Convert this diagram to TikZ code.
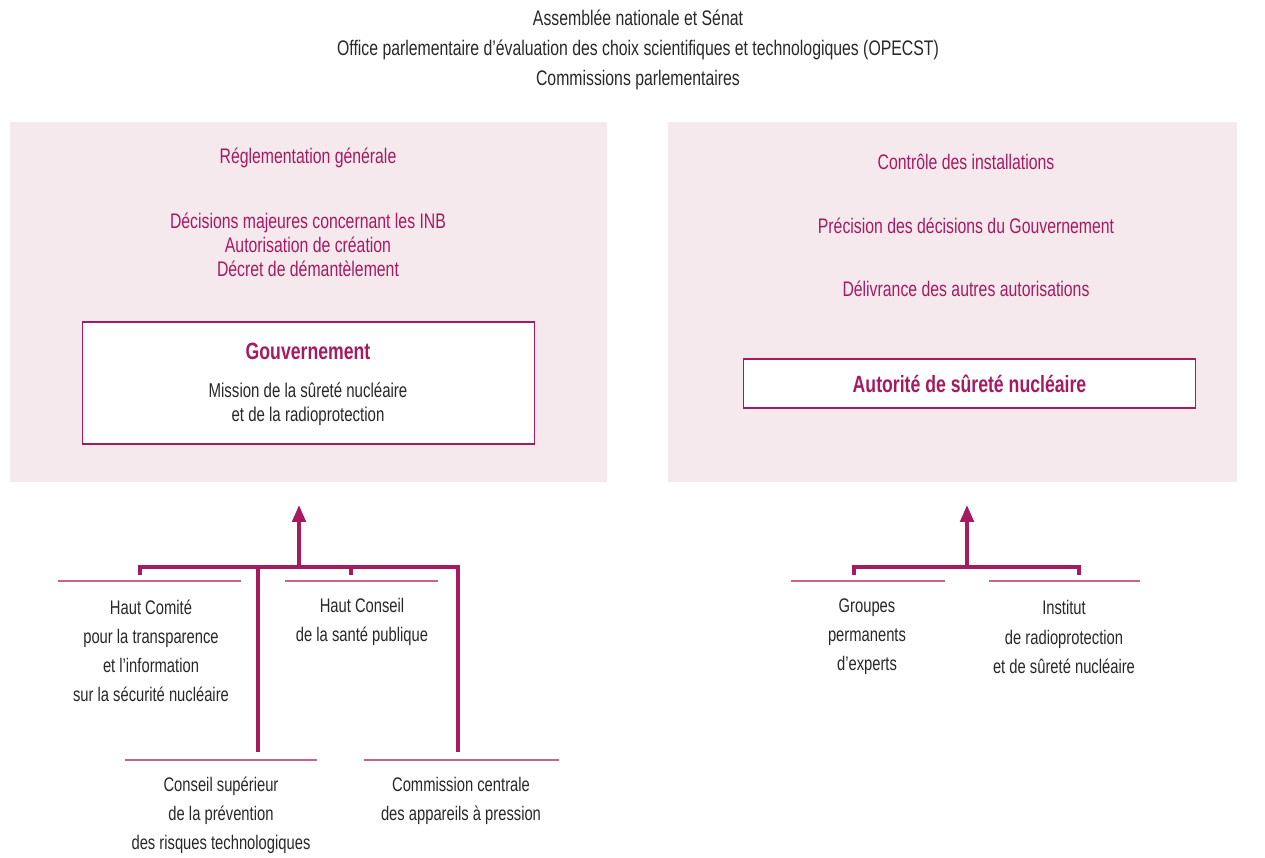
\documentclass[tikz,border=0pt]{standalone}
\usepackage{fontspec}
\setmainfont{Liberation Sans}[FakeStretch=0.75]
\usetikzlibrary{arrows.meta}
\usetikzlibrary{positioning}

\definecolor{asnred}{RGB}{166,27,96}
\definecolor{asnpink}{RGB}{245,233,238}
\definecolor{asnrule}{RGB}{205,95,145}
\definecolor{asngray}{RGB}{40,40,40}

\begin{document}
\begin{tikzpicture}[x=0.02cm, y=-0.02cm,
    panel/.style={fill=asnpink, draw=none, inner sep=0pt},
    role/.style={text=asnred, align=center, font=\fontsize{12}{13.6}\selectfont},
    body/.style={text=asngray, align=center, font=\fontsize{11.4}{13.6}\selectfont},
    title/.style={text=asngray, align=center, font=\fontsize{12}{17}\selectfont},
    member/.style={text=asngray, align=center, font=\fontsize{11.2}{16.6}\selectfont},
    authority/.style={draw=asnred, fill=white, line width=0.6pt, inner sep=0pt},
    link/.style={draw=asnred, line width=2pt},
    rule/.style={draw=asnrule, line width=0.9pt}]
    \useasboundingbox (0,0) rectangle (1265,858);

    % parlement
    \node[title] (parl) at (638,50) {Assemblée nationale et Sénat\\
        Office parlementaire d’évaluation des choix scientifiques et technologiques (OPECST)\\
        Commissions parlementaires};

    % gouvernement
    \node[panel, minimum width=11.94cm, minimum height=7.2cm] (govpanel) at (308.5,302) {};
    \node[role] (regl) at (308,158) {Réglementation générale};
    \node[role] (decis) at (308,245) {Décisions majeures concernant les INB\\
        Autorisation de création\\Décret de démantèlement};
    \node[authority, minimum width=9.06cm, minimum height=2.44cm] (gov) at (308.5,383) {};
    \node[role, font=\fontsize{13.4}{15}\bfseries] (govname) at (308,351) {Gouvernement};
    \node[body] (msnr) at (308,404) {Mission de la sûreté nucléaire\\et de la radioprotection};

    % autorite
    \node[panel, minimum width=11.38cm, minimum height=7.2cm] (asnpanel) at (952.5,302) {};
    \node[role] (ctrl) at (966,162) {Contrôle des installations};
    \node[role] (prec) at (966,226) {Précision des décisions du Gouvernement};
    \node[role] (deliv) at (966,289) {Délivrance des autres autorisations};
    \node[authority, minimum width=9.06cm, minimum height=0.98cm] (asn) at (969.5,383.5) {};
    \node[role, font=\fontsize{13.4}{15}\bfseries] (asnname) at (asn) {Autorité de sûreté nucléaire};

    % organismes consultatifs
    \node[member] (hctisn) at (151,651) {Haut Comité\\pour la transparence\\et l’information\\sur la sécurité nucléaire};
    \node[member] (hcsp) at (362,622) {Haut Conseil\\de la santé publique};
    \node[member] (csprt) at (221,815) {Conseil supérieur\\de la prévention\\des risques technologiques};
    \node[member] (ccap) at (461,801) {Commission centrale\\des appareils à pression};
    \node[member] (gpe) at (867,637) {Groupes\\permanents\\d’experts};
    \node[member] (irsn) at (1064,637) {Institut\\de radioprotection\\et de sûreté nucléaire};

    \draw[rule] (58,581) -- (241,581);
    \draw[rule] (285,581) -- (438,581);
    \draw[rule] (125,760) -- (317,760);
    \draw[rule] (364,760) -- (559,760);
    \draw[rule] (791,581) -- (945,581);
    \draw[rule] (989,581) -- (1140,581);

    % liaisons
    \coordinate (ljoin) at (299,567);
    \coordinate (ltip) at (299,505);
    \coordinate (hctisnin) at (140,575);
    \coordinate (hcspin) at (351,575);
    \coordinate (csprtin) at (258,752);
    \coordinate (ccapin) at (458,752);
    \draw[link] (hctisnin) |- (ccapin |- ljoin) -- (ccapin);
    \draw[link] (hcspin) -- (hcspin |- ljoin);
    \draw[link] (csprtin) -- (csprtin |- ljoin);
    \draw[link, -{Triangle[length=0.34cm, width=0.27cm]}] (ljoin) -- (ltip);

    \coordinate (rjoin) at (967,567);
    \coordinate (rtip) at (967,505);
    \coordinate (gpein) at (854,575);
    \coordinate (irsnin) at (1079,575);
    \draw[link] (gpein) |- (irsnin |- rjoin) -- (irsnin);
    \draw[link, -{Triangle[length=0.34cm, width=0.27cm]}] (rjoin) -- (rtip);
\end{tikzpicture}
\end{document}
